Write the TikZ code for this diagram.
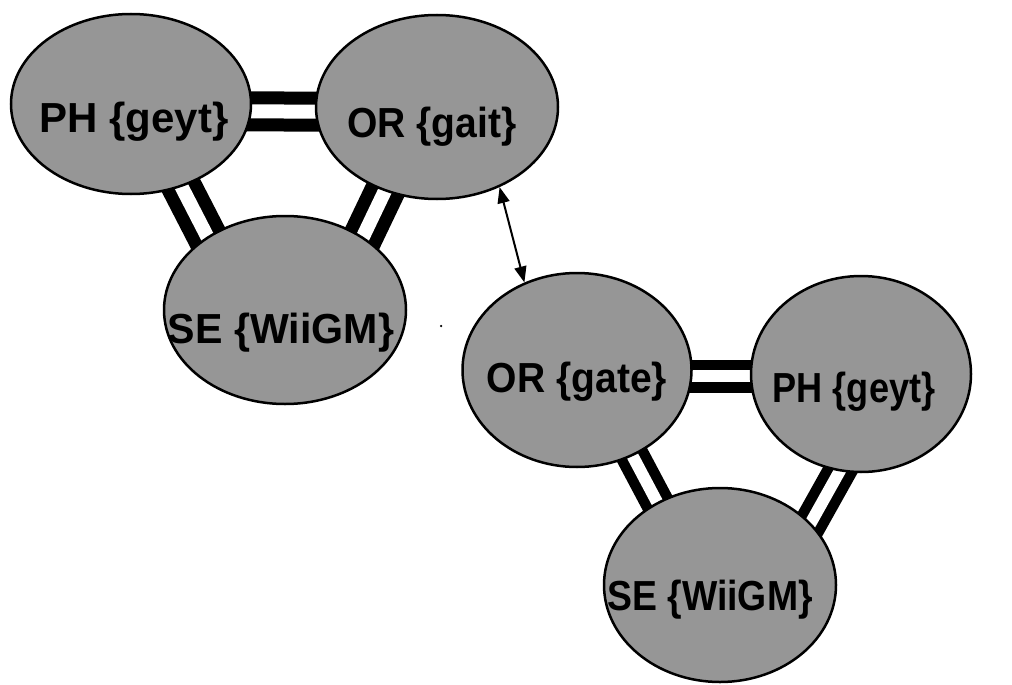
\documentclass[tikz,border=0pt]{standalone}
\usepackage{fontspec}
\setmainfont{Liberation Sans}
\usepackage{graphicx}
\usetikzlibrary{shapes.geometric,backgrounds,arrows.meta}

\definecolor{blobgray}{RGB}{150,150,150}

% bold label, squeezed horizontally by #1
\newcommand{\squeezed}[2]{\scalebox{#1}[1]{#2}}

\tikzset{
  blob/.style={ellipse, draw=black, line width=2.5pt, fill=blobgray, inner sep=0pt},
  lbl/.style={anchor=base, inner sep=0pt, text=black,
              font=\fontsize{42pt}{48pt}\selectfont\bfseries},
  bondA/.style={draw=black, line width=13pt, double=white, double distance=14pt},
  bondB/.style={draw=black, line width=10.5pt, double=white, double distance=12pt},
  link/.style={draw=black, line width=2pt,
               {Triangle[length=16pt,width=12pt]}-{Triangle[length=16pt,width=12pt]}},
  speck/.style={circle, fill=black, inner sep=0pt, minimum size=2.5pt}
}

\begin{document}
\begin{tikzpicture}[x=1pt, y=-1pt]
  \useasboundingbox (0,0) rectangle (1012,685);

  % first group
  \node[blob, minimum width=240pt, minimum height=180pt] (ph1) at (131,104) {};
  \node[blob, minimum width=242pt, minimum height=184pt] (or1) at (437,107) {};
  \node[blob, minimum width=242pt, minimum height=188pt] (se1) at (285,310) {};

  % second group
  \node[blob, minimum width=229pt, minimum height=194pt] (or2) at (577,370) {};
  \node[blob, minimum width=220pt, minimum height=196pt] (ph2) at (861,374) {};
  \node[blob, minimum width=232pt, minimum height=194pt] (se2) at (720,585) {};

  % labels
  \node[lbl] (ph1t) at (134,132) {\squeezed{1.0}{PH \{geyt\}}};
  \node[lbl] (or1t) at (432,137) {\squeezed{0.93}{OR \{gait\}}};
  \node[lbl] (se1t) at (281,343) {\squeezed{0.98}{SE \{WiiGM\}}};
  \node[lbl] (or2t) at (577,392) {\squeezed{0.93}{OR \{gate\}}};
  \node[lbl] (ph2t) at (854,402) {\squeezed{0.86}{PH \{geyt\}}};
  \node[lbl] (se2t) at (710,610) {\squeezed{0.89}{SE \{WiiGM\}}};

  % double bonds behind the ellipses
  \begin{pgfonlayer}{background}
    \draw[bondA] ([yshift=-7pt]ph1.center) -- ([yshift=-5pt]or1.center);
    \draw[bondA] ([xshift=8pt]ph1.center) -- ([xshift=-40pt]se1.center);
    \draw[bondA] ([xshift=-12pt]or1.center) -- ([xshift=43pt]se1.center);
    \draw[bondB] ([yshift=-6pt]or2.center) -- ([yshift=-2pt]ph2.center);
    \draw[bondB] ([xshift=10pt]or2.center) -- ([xshift=-19pt]se2.center);
    \draw[bondB] ([xshift=33pt]ph2.center) -- ([xshift=56pt]se2.center);
  \end{pgfonlayer}

  % link between the two groups
  \draw[link] (or1.-52) -- (or2.121);

  \node[speck] (dot) at (441,326) {};
\end{tikzpicture}
\end{document}
